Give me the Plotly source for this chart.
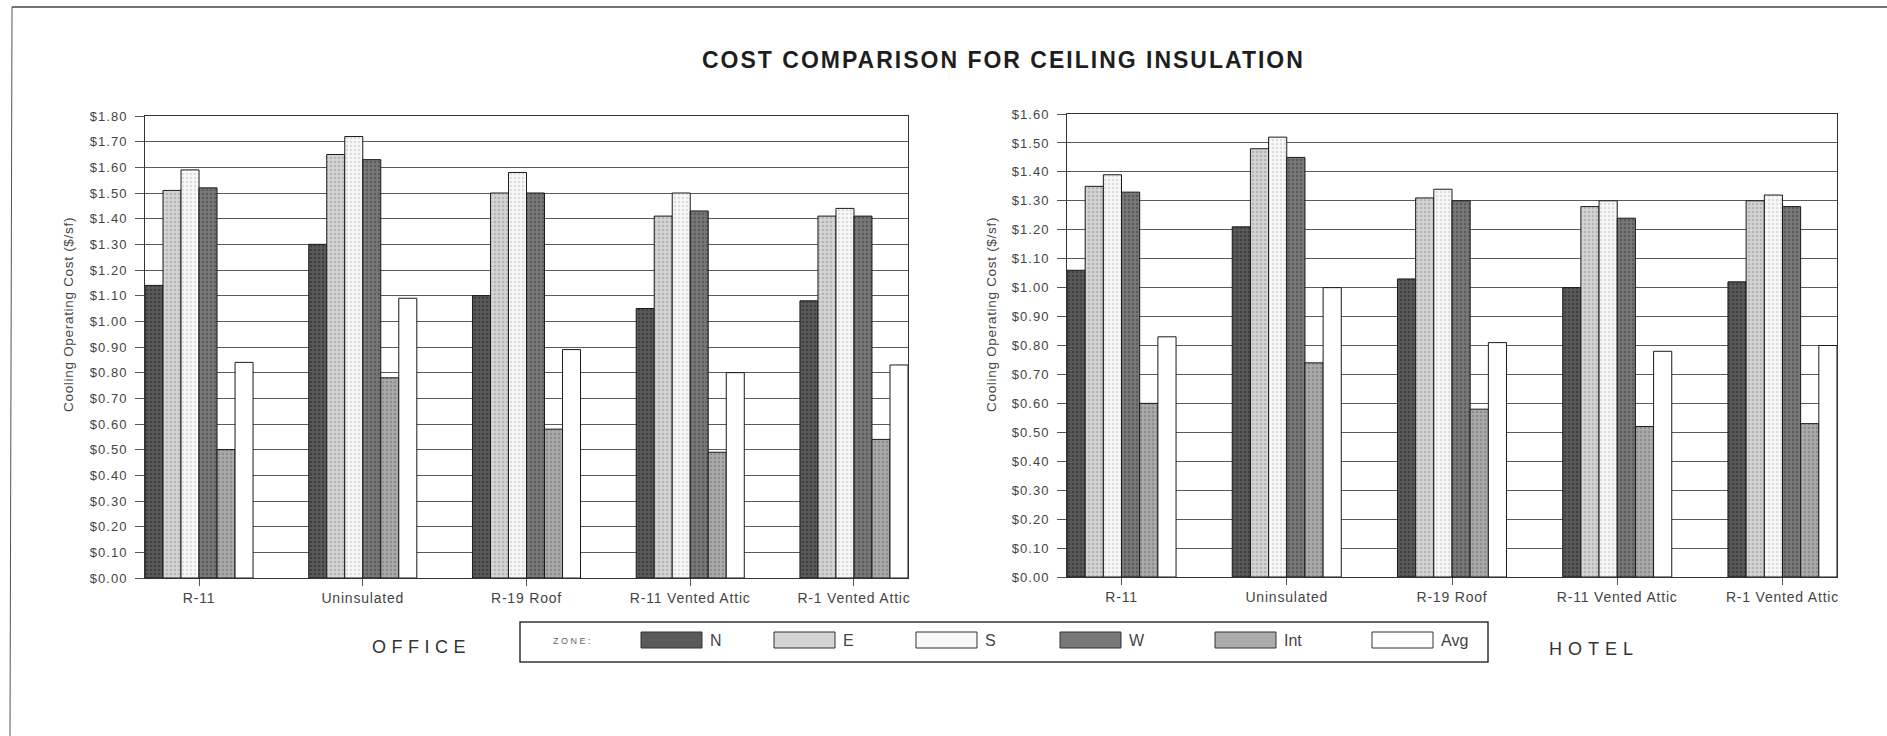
import plotly.graph_objects as go

W, H = 1887, 736

# ---- data -------------------------------------------------------------
categories = ["R-11", "Uninsulated", "R-19 Roof", "R-11 Vented Attic", "R-1 Vented Attic"]
zones = ["N", "E", "S", "W", "Int", "Avg"]

office_N = [1.14, 1.30, 1.10, 1.05, 1.08]
office_E = [1.51, 1.65, 1.50, 1.41, 1.41]
office_S = [1.59, 1.72, 1.58, 1.50, 1.44]
office_W = [1.52, 1.63, 1.50, 1.43, 1.41]
office_Int = [0.50, 0.78, 0.58, 0.49, 0.54]
office_Avg = [0.84, 1.09, 0.89, 0.80, 0.83]

hotel_N = [1.06, 1.21, 1.03, 1.00, 1.02]
hotel_E = [1.35, 1.48, 1.31, 1.28, 1.30]
hotel_S = [1.39, 1.52, 1.34, 1.30, 1.32]
hotel_W = [1.33, 1.45, 1.30, 1.24, 1.28]
hotel_Int = [0.60, 0.74, 0.58, 0.52, 0.53]
hotel_Avg = [0.83, 1.00, 0.81, 0.78, 0.80]

office_ticks = [i / 10 for i in range(0, 19)]
hotel_ticks = [i / 10 for i in range(0, 17)]

office = [office_N, office_E, office_S, office_W, office_Int, office_Avg]
hotel = [hotel_N, hotel_E, hotel_S, hotel_W, hotel_Int, hotel_Avg]

# ---- styling ----------------------------------------------------------
# (background grey, speckle grey) per zone
zone_fill = {
    "N": ("#5a5a5a", "#262626"),
    "E": ("#d4d4d4", "#959595"),
    "S": ("#f8f8f8", "#c2c2c2"),
    "W": ("#787878", "#404040"),
    "Int": ("#ababab", "#707070"),
    "Avg": ("#ffffff", None),
}
TXT = "#444444"
FONT = "Arial, Liberation Sans, sans-serif"


def px_x(x):
    return x / W


def px_y(y):
    return 1 - y / H


def spaced(text, ls):
    return f"<span style='letter-spacing:{ls}px'>{text}</span>"


fig = go.Figure()


def add_bars(values, xa, ya):
    for zone, vals in zip(zones, values):
        bg, fg = zone_fill[zone]
        marker = dict(color=bg, line=dict(color="#1a1a1a", width=1))
        if fg is not None:
            marker["pattern"] = dict(shape=".", bgcolor=bg, fgcolor=fg,
                                     size=4, solidity=0.35)
        fig.add_trace(go.Bar(
            x=categories, y=vals, name=zone, marker=marker,
            xaxis=xa, yaxis=ya, showlegend=False,
        ))


add_bars(office, "x", "y")
add_bars(hotel, "x2", "y2")

xaxis_common = dict(
    type="category", range=[-0.33, 4.33],
    tickvals=categories, ticktext=[spaced(c, 0.8) for c in categories],
    showline=True, mirror=True, linecolor="#333", linewidth=1,
    ticks="outside", ticklen=7, tickcolor="#555",
    tickfont=dict(family=FONT, size=14, color=TXT),
    showgrid=False, fixedrange=True, automargin=False,
)
yaxis_common = dict(
    showline=True, mirror=True, linecolor="#333", linewidth=1,
    ticks="outside", ticklen=9, tickcolor="#555", ticklabelstandoff=5,
    tickfont=dict(family=FONT, size=13, color=TXT),
    showgrid=True, gridcolor="#5a5a5a", gridwidth=1,
    zeroline=False, fixedrange=True, automargin=False,
)


def money_ticks(vals):
    return dict(tickvals=vals, ticktext=[spaced(f"${v:.2f}", 1) for v in vals])


fig.update_layout(
    width=W, height=H,
    margin=dict(l=0, r=0, t=0, b=0),
    paper_bgcolor="white", plot_bgcolor="white",
    barmode="group", bargap=0.34, bargroupgap=0,
    xaxis=dict(domain=[px_x(145), px_x(908)], anchor="y", **xaxis_common),
    yaxis=dict(domain=[px_y(578), px_y(116)], anchor="x", range=[0, 1.8],
               **money_ticks(office_ticks), **yaxis_common),
    xaxis2=dict(domain=[px_x(1067), px_x(1837)], anchor="y2", **xaxis_common),
    yaxis2=dict(domain=[px_y(577), px_y(114)], anchor="x2", range=[0, 1.6],
                **money_ticks(hotel_ticks), **yaxis_common),
)


def note(text, x, y, size, color=TXT, xanchor="center", **kw):
    return dict(text=text, x=px_x(x), y=px_y(y), xref="paper", yref="paper",
                xanchor=xanchor, yanchor="middle", showarrow=False,
                font=dict(family=FONT, size=size, color=color), **kw)


ann = []
# main title
ann.append(note(spaced("<b>COST COMPARISON FOR CEILING INSULATION</b>", 2),
                1003, 60, 23, color="#1e1e1e"))
# y-axis titles
for xpos in (68, 991):
    ann.append(note(spaced("Cooling Operating Cost ($/sf)", 0.7), xpos, 315, 13.5,
                    textangle=-90))
# panel names
ann.append(note(spaced("OFFICE", 5.5), 421, 647, 18, color="#333"))
ann.append(note(spaced("HOTEL", 6), 1594, 649, 18, color="#333"))

shapes = []
# page frame
shapes.append(dict(type="line", xref="paper", yref="paper",
                   x0=px_x(12), y0=px_y(7), x1=1, y1=px_y(7),
                   line=dict(color="#444", width=1.5)))
shapes.append(dict(type="line", xref="paper", yref="paper",
                   x0=px_x(12), y0=px_y(7), x1=px_x(10), y1=0,
                   line=dict(color="#555", width=1)))

# zone key box
shapes.append(dict(type="rect", xref="paper", yref="paper",
                   x0=px_x(520), x1=px_x(1488), y0=px_y(662), y1=px_y(622),
                   line=dict(color="#333", width=1.5), fillcolor="rgba(0,0,0,0)"))
ann.append(note(spaced("ZONE:", 2.5), 573, 641, 9, color="#666"))
key_left = [641, 774, 916, 1060, 1215, 1372]
for zone, xl in zip(zones, key_left):
    bg, fg = zone_fill[zone]
    shapes.append(dict(type="rect", xref="paper", yref="paper",
                       x0=px_x(xl), x1=px_x(xl + 61), y0=px_y(648), y1=px_y(632),
                       line=dict(color="#333", width=1), fillcolor=bg))
    ann.append(note(zone, xl + 67, 640, 16, xanchor="left"))

fig.update_layout(annotations=ann, shapes=shapes)

fig.write_html("out.html")
